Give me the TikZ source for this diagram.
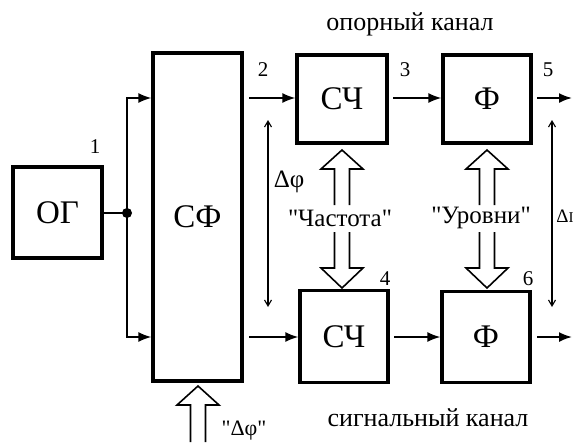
\documentclass[tikz,border=0pt]{standalone}
\usepackage{fontspec}
\setmainfont{Liberation Serif}
\usetikzlibrary{arrows.meta}
\tikzset{
  blk/.style={draw, line width=3.2pt, inner sep=0pt, font=\fontsize{33}{36}\selectfont},
  conn/.style={line width=1.8pt, -{Latex[length=13pt,width=10pt]}},
  thin2/.style={line width=1.1pt, {Straight Barb[length=6pt,width=7pt]}-{Straight Barb[length=6pt,width=7pt]}},
  num/.style={font=\fontsize{21}{23}\selectfont, inner sep=0pt},
  lbl/.style={font=\fontsize{25}{28}\selectfont, inner sep=0pt},
  captxt/.style={font=\fontsize{26}{28}\selectfont, inner sep=0pt},
  hollow/.style={line width=1.6pt, line join=miter}
}
\newcommand\hollowarr[4]{% x, tip y, base y, shaft end y
  \draw[hollow] (#1-7.5,#4) -- (#1-7.5,#3) -- (#1-21,#3) -- (#1,#2) -- (#1+21,#3) -- (#1+7.5,#3) -- (#1+7.5,#4);}
\newcommand\qq{\textquotedbl}
\begin{document}
\begin{tikzpicture}[x=1pt,y=-1pt]
\useasboundingbox (0,0) rectangle (575,442);
% blocks
\node[blk, minimum width=89pt, minimum height=91pt] (og) at (57.5,212.5) {ОГ};
\node[blk, minimum width=89pt, minimum height=328pt] (sf) at (197.5,217) {СФ};
\node[blk, minimum width=90pt, minimum height=88pt] (sc1) at (342,99) {СЧ};
\node[blk, minimum width=88pt, minimum height=88pt] (f1) at (487,99) {Ф};
\node[blk, minimum width=88pt, minimum height=92pt] (sc2) at (344,336.5) {СЧ};
\node[blk, minimum width=88pt, minimum height=91pt] (f2) at (486,337) {Ф};
% junction
\coordinate (j) at (127,213);
\fill (j) circle (5pt);
\draw[line width=1.8pt] (og.east |- j) -- (j);
\draw[conn] (j) |- (sf.west |- 0,98);
\draw[conn] (j) |- (sf.west |- 0,337);
% top channel
\coordinate (o1) at (249,98);
\draw[conn] (o1) -- (sc1.west |- o1);
\coordinate (o3) at (393,98);
\draw[conn] (o3) -- (f1.west |- o3);
\coordinate (o5) at (537,98);
\coordinate (e5) at (572,98);
\draw[conn] (o5) -- (e5);
% bottom channel
\coordinate (o2) at (249,337);
\draw[conn] (o2) -- (sc2.west |- o2);
\coordinate (o4) at (394,337);
\draw[conn] (o4) -- (f2.west |- o4);
\coordinate (o6) at (537,337);
\coordinate (e6) at (572,337);
\draw[conn] (o6) -- (e6);
% delta lines
\coordinate (d1a) at (268,120);
\coordinate (d1b) at (268,307);
\draw[thin2] (d1a) -- (d1b);
\coordinate (d2a) at (552,120);
\coordinate (d2b) at (552,307);
\draw[thin2] (d2a) -- (d2b);
\node[lbl] (dphi) at (289,182) {Δφ};
\node[lbl, font=\fontsize{19}{21}\selectfont] (dI) at (565,216) {Δ{\fontsize{15}{17}\selectfont I}};
% hollow arrows
\hollowarr{342}{150}{169}{205}
\hollowarr{342}{288}{268}{232}
\hollowarr{487}{150}{169}{205}
\hollowarr{487}{288}{268}{232}
\hollowarr{198}{386}{405}{442}
\node[lbl] (chast) at (340,218) {\qq Частота\qq};
\node[lbl] (urov) at (481,218) {\qq Уровни\qq};
\node[lbl, font=\fontsize{22}{24}\selectfont] (dphi2) at (244,431) {\qq Δφ\qq};
% numbers
\node[num] (n1) at (95,147) {1};
\node[num] (n2) at (263,70) {2};
\node[num] (n3) at (405,70) {3};
\node[num] (n5) at (548,70) {5};
\node[num] (n4) at (385,279) {4};
\node[num] (n6) at (528,279) {6};
% captions
\node[captxt] (top) at (410,24) {опорный канал};
\node[captxt] (bot) at (428,418) {сигнальный канал};
\end{tikzpicture}
\end{document}
